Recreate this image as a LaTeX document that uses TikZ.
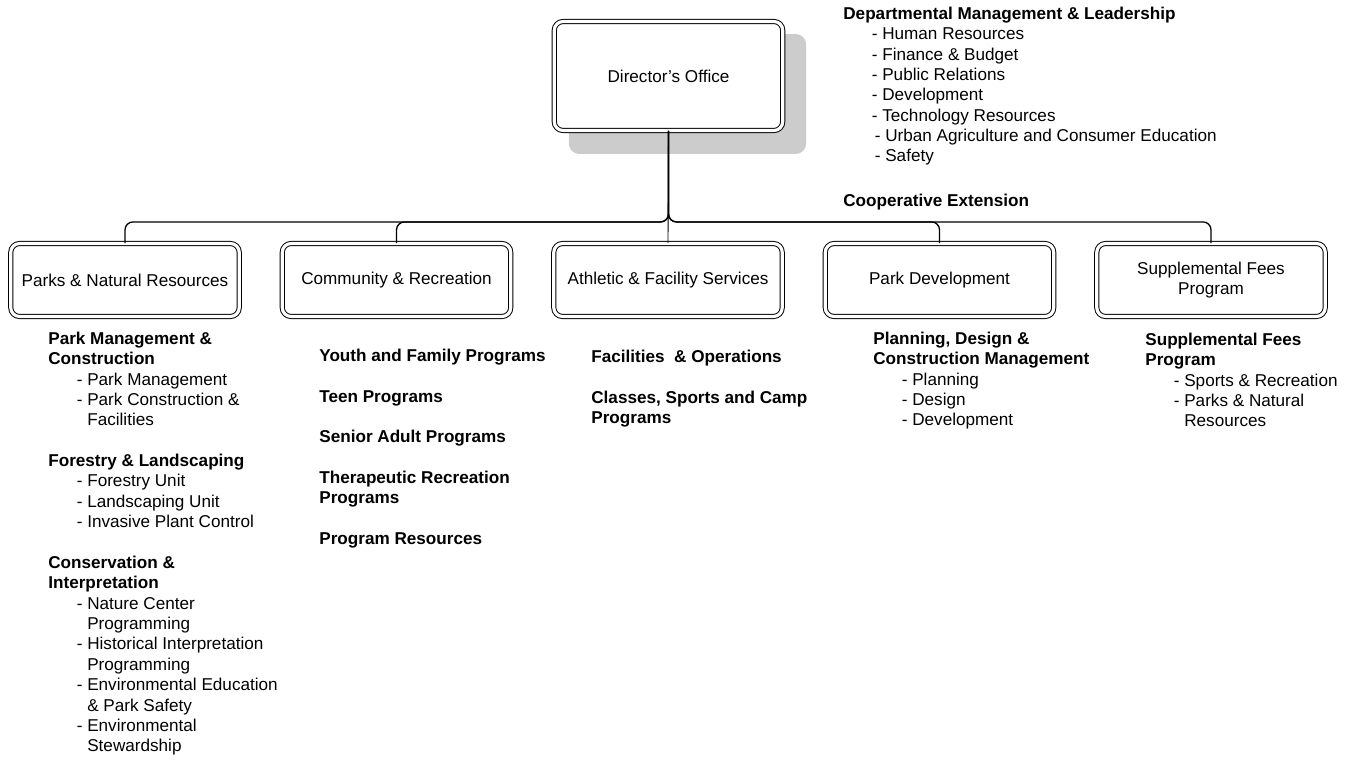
\documentclass[tikz,border=0pt]{standalone}
\usepackage{fontspec}
\setmainfont{Liberation Sans}
\usetikzlibrary{positioning, backgrounds}

\newcommand{\orgfont}{\fontsize{9.75}{11.6}\selectfont}
\newcommand{\subunit}[1]{\hspace*{0.57cm}- #1}
\newcommand{\subcont}[1]{\hspace*{0.57cm}\phantom{- }#1}

\begin{document}
\begin{tikzpicture}[
  x=0.02cm, y=-0.02cm,
  unitbox/.style={rectangle, draw=black, double, line width=0.55pt, double distance=1.8pt,
                  rounded corners=5pt, fill=white, minimum width=4.57cm, minimum height=1.46cm,
                  align=center, font=\orgfont, inner sep=2pt},
  listtext/.style={anchor=north west, align=left, inner sep=0pt, font=\orgfont},
  link/.style={draw=black, line width=0.75pt, rounded corners=4.5pt},
  thinlink/.style={draw=black, line width=0.5pt}
]
\useasboundingbox (0,0) rectangle (1351,761);

% Director
\node[unitbox, minimum height=2.18cm] (dir) at (668.5,76) {Director's Office};
\begin{scope}[on background layer]
  \fill[black!20, rounded corners=6pt] ([shift={(15,23)}]dir.south west) rectangle ([shift={(23,13)}]dir.north east);
\end{scope}

% Divisions
\node[unitbox] (pnr) at (125,280) {Parks \& Natural Resources};
\node[unitbox] (cor) at (396.5,280) {Community \& Recreation};
\node[unitbox] (afs) at (668,280) {Athletic \& Facility Services};
\node[unitbox] (pdv) at (939.5,280) {Park Development};
\node[unitbox] (sfp) at (1211,280) {Supplemental Fees\\Program};

% Connectors
\draw[link] (dir.south) |- ([yshift=12pt]pnr.north) -- (pnr.north);
\draw[link] (dir.south) |- ([yshift=12pt]cor.north) -- (cor.north);
\draw[link] (dir.south) |- ([yshift=12pt]pdv.north) -- (pdv.north);
\draw[link] (dir.south) |- ([yshift=12pt]sfp.north) -- (sfp.north);
\draw[thinlink] (dir.south) -- (afs.north);

% Director's office units
\node[listtext] (dml) at (843,6.5)
  {\textbf{Departmental Management \& Leadership}\\
   \subunit{Human Resources}\\
   \subunit{Finance \& Budget}\\
   \subunit{Public Relations}\\
   \subunit{Development}\\
   \subunit{Technology Resources}\\
   \hspace*{0.06cm}\subunit{Urban Agriculture and Consumer Education}\\
   \hspace*{0.06cm}\subunit{Safety}};
\node[listtext] (coop) at (843,193.5) {\textbf{Cooperative Extension}};

% Parks & Natural Resources
\node[listtext] (pnr-list) at (48,331.5)
  {\textbf{Park Management \&}\\
   \textbf{Construction}\\
   \subunit{Park Management}\\
   \subunit{Park Construction \&}\\
   \subcont{Facilities}\\[11.6pt]
   \textbf{Forestry \& Landscaping}\\
   \subunit{Forestry Unit}\\
   \subunit{Landscaping Unit}\\
   \subunit{Invasive Plant Control}\\[11.6pt]
   \textbf{Conservation \&}\\
   \textbf{Interpretation}\\
   \subunit{Nature Center}\\
   \subcont{Programming}\\
   \subunit{Historical Interpretation}\\
   \subcont{Programming}\\
   \subunit{Environmental Education}\\
   \subcont{\& Park Safety}\\
   \subunit{Environmental}\\
   \subcont{Stewardship}};

% Community & Recreation
\node[listtext] (cor-list) at (319,348.5)
  {\textbf{Youth and Family Programs}\\[11.6pt]
   \textbf{Teen Programs}\\[11.6pt]
   \textbf{Senior Adult Programs}\\[11.6pt]
   \textbf{Therapeutic Recreation}\\
   \textbf{Programs}\\[11.6pt]
   \textbf{Program Resources}};

% Athletic & Facility Services
\node[listtext] (afs-list) at (591,349.5)
  {\textbf{Facilities\ \ \& Operations}\\[11.6pt]
   \textbf{Classes, Sports and Camp}\\
   \textbf{Programs}};

% Park Development
\node[listtext] (pdv-list) at (873,331.5)
  {\textbf{Planning, Design \&}\\
   \textbf{Construction Management}\\
   \subunit{Planning}\\
   \subunit{Design}\\
   \subunit{Development}};

% Supplemental Fees Program
\node[listtext] (sfp-list) at (1145,332.5)
  {\textbf{Supplemental Fees}\\
   \textbf{Program}\\
   \subunit{Sports \& Recreation}\\
   \subunit{Parks \& Natural}\\
   \subcont{Resources}};

\end{tikzpicture}
\end{document}
